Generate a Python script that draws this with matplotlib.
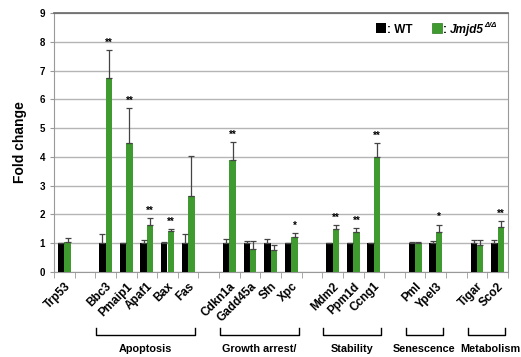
import numpy as np
import matplotlib
matplotlib.use('Agg')
from matplotlib import pyplot as plt
from matplotlib.patches import Rectangle

plt.rcParams['font.family'] = ['Liberation Sans', 'DejaVu Sans']

# genes in plot order, '' = empty spacer slot
genes = ['Trp53', '', 'Bbc3', 'Pmaip1', 'Apaf1', 'Bax', 'Fas', '',
         'Cdkn1a', 'Gadd45a', 'Sfn', 'Xpc', '',
         'Mdm2', 'Ppm1d', 'Ccng1', '', 'Pml', 'Ypel3', '', 'Tigar', 'Sco2']

wt = [1.0, None, 1.0, 1.02, 1.0, 1.02, 1.0, None,
      1.0, 1.0, 1.0, 1.02, None,
      1.02, 1.02, 1.02, None, 1.0, 1.0, None, 1.0, 1.0]
wt_err = [0.0, None, 0.33, 0.0, 0.1, 0.02, 0.32, None,
          0.15, 0.07, 0.13, 0.0, None,
          0.0, 0.0, 0.0, None, 0.05, 0.07, None, 0.1, 0.12]

ko = [1.05, None, 6.75, 4.48, 1.65, 1.42, 2.65, None,
      3.9, 0.8, 0.75, 1.2, None,
      1.5, 1.38, 4.0, None, 1.0, 1.4, None, 0.95, 1.55]
ko_err = [0.12, None, 0.95, 1.22, 0.22, 0.08, 1.37, None,
          0.62, 0.27, 0.2, 0.15, None,
          0.12, 0.15, 0.48, None, 0.05, 0.25, None, 0.17, 0.22]

stars = ['', '', '**', '**', '**', '**', '', '',
         '**', '', '', '*', '',
         '**', '**', '**', '', '', '*', '', '', '**']

groups = [('Apoptosis', 2, 6), ('Growth arrest/', 8, 11), ('Stability', 13, 15),
          ('Senescence', 17, 18), ('Metabolism', 20, 21)]

green = '#3f9a2f'

fig = plt.figure(figsize=(5.21, 3.57), dpi=100)
ax = fig.add_axes([54 / 521, 85 / 357, 454 / 521, 259 / 357])

idx = [i for i, g in enumerate(genes) if g]
x = np.array(idx, dtype=float)
w = 0.31
wt_v = [wt[i] for i in idx]
ko_v = [ko[i] for i in idx]
wt_e = [wt_err[i] for i in idx]
ko_e = [ko_err[i] for i in idx]

ax.bar(x - w / 2, wt_v, w, color='black', zorder=3)
ax.bar(x + w / 2, ko_v, w, color=green, zorder=3)
ax.errorbar(x - w / 2, wt_v, yerr=[np.zeros(len(wt_e)), wt_e], fmt='none',
            ecolor='#444444', elinewidth=0.9, capsize=2.5, capthick=0.9, zorder=4)
ax.errorbar(x + w / 2, ko_v, yerr=[np.zeros(len(ko_e)), ko_e], fmt='none',
            ecolor='#444444', elinewidth=0.9, capsize=2.5, capthick=0.9, zorder=4)

for i in idx:
    if stars[i]:
        ax.text(i + w / 2, ko[i] + ko_err[i] + 0.08, stars[i], ha='center',
                va='bottom', fontsize=7, fontweight='bold')

ax.set_xlim(-0.5, len(genes) - 0.5)
ax.set_ylim(0, 9)
ax.set_yticks(range(10))
ax.set_yticklabels([str(v) for v in range(10)], fontsize=7, fontweight='bold')
ax.yaxis.grid(True, color='#b5b5b5', linewidth=1, zorder=0)
ax.set_ylabel('Fold change', fontsize=10, fontweight='bold', labelpad=9)

ax.set_xticks(x)
ax.set_xticklabels([genes[i] for i in idx], rotation=45, ha='right',
                   rotation_mode='anchor', fontsize=8.5, fontweight='bold')
ax.tick_params(axis='x', length=0, pad=6)
ax.set_xticks(np.arange(-0.5, len(genes)), minor=True)
ax.tick_params(axis='x', which='minor', length=4, color='#999999')
ax.tick_params(axis='y', length=3, color='#999999')

for s in ['left', 'bottom', 'right']:
    ax.spines[s].set_color('#999999')
ax.spines['top'].set_color('#666666')
ax.spines['top'].set_linewidth(1.2)

# group brackets under the gene names
for name, a, b in groups:
    x0, x1 = a - 0.45, b + 0.35
    ax.plot([x0, x0, x1, x1], [-1.95, -2.18, -2.18, -1.95], color='black',
            lw=1, clip_on=False)
    shift = 0.2 if name == 'Metabolism' else 0
    ax.text((x0 + x1) / 2 + shift, -2.5, name, ha='center', va='top',
            fontsize=7.8, fontweight='bold')

# legend drawn by hand (pixel positions converted to figure coords)
W, H = 521, 357
def fx(px):
    return px / W
def fy(py):
    return 1 - py / H

fig.patches.append(Rectangle((fx(376), fy(33)), 10 / W, 10 / H,
                             facecolor='black', transform=fig.transFigure))
fig.patches.append(Rectangle((fx(432), fy(33)), 10 / W, 10 / H,
                             facecolor=green, edgecolor='#2e7a22', lw=0.5,
                             transform=fig.transFigure))
fig.text(fx(387), fy(33), ': WT', fontsize=8.5, fontweight='bold', va='baseline')
t1 = fig.text(fx(443), fy(33), ': ', fontsize=8.5, fontweight='bold', va='baseline')
fig.canvas.draw()
r = fig.canvas.get_renderer()
bb = t1.get_window_extent(r)
t2 = fig.text(bb.x1 / W, fy(33), 'Jmjd5', fontsize=8.5, fontweight='bold',
              style='italic', va='baseline')
bb2 = t2.get_window_extent(r)
fig.text(bb2.x1 / W, fy(27), '\u0394/\u0394', fontsize=5.5, fontweight='bold',
         style='italic', va='baseline')

fig.savefig('out.png', dpi=100)
